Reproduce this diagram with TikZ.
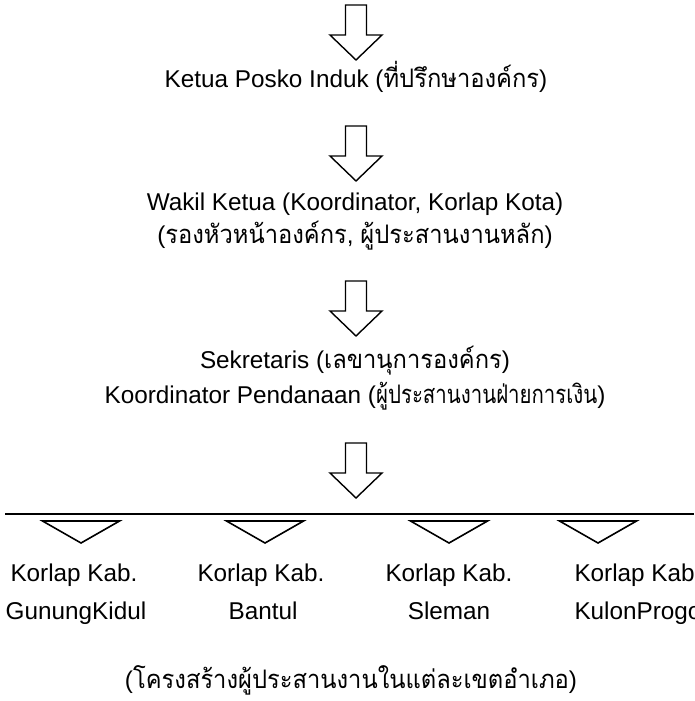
\documentclass[tikz,border=0pt]{standalone}
\usepackage{fontspec}
\setmainfont{Liberation Sans}
\newfontfamily\thai[Script=Thai,Scale=1.05,FakeStretch=0.93]{Loma}
\newfontfamily\thainarrow[Script=Thai,Scale=1.05,FakeStretch=0.8]{Loma}
\begin{document}
\begin{tikzpicture}[x=1pt,y=-1pt,
  lbl/.style={anchor=base,inner sep=0pt,font=\fontsize{24.3}{28}\selectfont},
  blockarrow/.pic={\draw[line width=1.4pt,line join=miter]
     (-10.5,0) -- (-10.5,30) -- (-26,30) -- (0,55) -- (26,30) -- (10.5,30) -- (10.5,0) -- cycle;},
  splitarrow/.pic={\draw[line width=1.6pt,line join=miter]
     (-38.5,0) -- (38.5,0) -- (0,22) -- cycle;}]
\useasboundingbox (0,0) rectangle (694,701);
% block arrows
\pic at (356,5) {blockarrow};
\pic at (356,126) {blockarrow};
\pic at (356,281) {blockarrow};
\pic at (356,443) {blockarrow};
% texts
\node[lbl] (ketua) at (356,88) {Ketua Posko Induk ({\thai ที่ปรึกษาองค์กร})};
\node[lbl] (wakil) at (355,210) {Wakil Ketua (Koordinator, Korlap Kota)};
\node[lbl] (wakilth) at (355,243) {({\thai รองหัวหน้าองค์กร}, {\thai ผู้ประสานงานหลัก})};
\node[lbl] (sekr) at (355,368) {Sekretaris ({\thai เลขานุการองค์กร})};
\node[lbl] (koord) at (355,403) {Koordinator Pendanaan ({\thainarrow ผู้ประสานงานฝ่ายการเงิน})};
% horizontal bar
\coordinate (barL) at (5,514);
\coordinate (barR) at (694,514);
\draw[line width=2pt] (barL) -- (barR);
% small triangles
\pic at (81,521) {splitarrow};
\pic at (265,521) {splitarrow};
\pic at (449,521) {splitarrow};
\pic at (598,521) {splitarrow};
% district labels
\node[lbl] (k1a) at (74,581) {Korlap Kab.};
\node[lbl] (k1b) at (76,619) {GunungKidul};
\node[lbl] (k2a) at (261,581) {Korlap Kab.};
\node[lbl] (k2b) at (263,619) {Bantul};
\node[lbl] (k3a) at (449,581) {Korlap Kab.};
\node[lbl] (k3b) at (449,619) {Sleman};
\node[lbl] (k4a) at (638,581) {Korlap Kab.};
\node[lbl] (k4b) at (638,619) {KulonProgo};
% caption
\node[lbl] (cap) at (351,688) {({\thai โครงสร้างผู้ประสานงานในแต่ละเขตอำเภอ})};
\end{tikzpicture}
\end{document}
